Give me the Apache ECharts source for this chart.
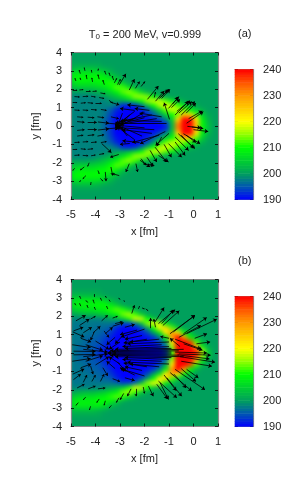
<!DOCTYPE html>
<html><head><meta charset="utf-8">
<style>html,body{margin:0;padding:0;background:#fff}#c{width:289px;height:480px}</style>
<script src="https://cdn.jsdelivr.net/npm/echarts@6/dist/echarts.min.js"></script>
</head><body><div id="c"></div>
<script>
const cellX=[-4.875,-4.625,-4.375,-4.125,-3.875,-3.625,-3.375,-3.125,-2.875,-2.625,-2.375,-2.125,-1.875,-1.625,-1.375,-1.125,-.875,-.625,-.375,-.125,.125,.375,.625,.875];
const cellY=[3.875,3.625,3.375,3.125,2.875,2.625,2.375,2.125,1.875,1.625,1.375,1.125,.875,.625,.375,.125];
const tempA=[
[200,200,200,200,200,200,200,200,200,200,200,200,200,200,200,200,200,200,200,200,200,200,200,200],
[200,200,200,200,200,200,200,200,200,200,200,200,200,200,200,200,200,200,200,200,200,200,200,200],
[201,201,201,201,201,200,200,200,200,200,200,200,200,200,200,200,200,200,200,200,200,200,200,200],
[203,204,204,204,203,202,201,200,200,200,200,200,200,200,200,200,200,200,200,200,200,200,200,200],
[208,208,208,208,208,206,203,201,200,200,200,200,200,200,200,200,200,200,200,200,200,200,200,200],
[209,210,210,210,210,209,207,204,201,200,200,200,200,200,200,200,200,200,200,200,200,200,200,200],
[207,208,208,208,209,210,211,208,204,201,200,200,200,200,200,200,200,200,200,200,200,200,200,200],
[204,205,205,205,206,207,210,213,212,207,202,200,200,200,200,200,200,200,200,200,200,200,200,200],
[200,200,200,201,202,204,206,209,213,215,212,206,202,200,200,200,200,200,200,200,200,200,200,200],
[198,198,198,198,199,200,202,204,207,211,215,216,214,208,203,201,200,200,200,200,200,200,200,200],
[198,198,198,198,198,198,199,200,201,203,206,210,215,218,217,213,208,204,201,200,200,200,200,200],
[198,198,198,198,198,198,198,196,192,191,192,196,203,210,216,219,217,212,207,204,201,200,200,200],
[198,198,198,198,198,197,195,192,190,190,190,191,194,199,206,213,217,217,214,210,205,202,200,200],
[198,198,198,198,198,197,194,191,190,190,190,190,192,195,199,205,210,214,226,224,213,205,201,200],
[198,198,198,198,198,196,193,190,190,190,190,190,190,191,194,198,205,224,245,242,222,208,202,200],
[198,198,198,198,198,196,193,190,190,190,190,190,190,190,190,192,203,232,250,248,226,209,203,200]
];
const tempB=[
[200,200,200,200,200,200,200,200,200,200,200,200,200,200,200,200,200,200,200,200,200,200,200,200],
[200,200,200,200,200,200,200,200,200,200,200,200,200,200,200,200,200,200,200,200,200,200,200,200],
[201,201,201,201,201,200,200,200,200,200,200,200,200,200,200,200,200,200,200,200,200,200,200,200],
[203,203,203,203,202,201,200,200,200,200,200,200,200,200,200,200,200,200,200,200,200,200,200,200],
[207,208,208,208,208,206,203,201,200,200,200,200,200,200,200,200,200,200,200,200,200,200,200,200],
[208,209,209,209,210,210,208,205,201,200,200,200,200,200,200,200,200,200,200,200,200,200,200,200],
[205,206,207,207,208,209,211,213,211,206,202,200,200,200,200,200,200,200,200,200,200,200,200,200],
[201,202,203,203,204,205,207,209,214,216,212,205,201,200,200,200,200,200,200,200,200,200,200,200],
[198,198,198,198,198,199,200,202,205,211,218,218,210,204,201,200,200,200,200,200,200,200,200,200],
[197,197,197,197,197,197,197,196,194,194,197,204,215,220,217,208,203,200,200,200,200,200,200,200],
[197,197,197,197,196,196,195,192,190,190,191,194,200,210,221,224,213,205,201,200,200,200,200,200],
[197,197,197,196,196,195,193,191,190,190,190,191,194,200,208,222,230,222,209,203,200,200,200,200],
[197,197,196,196,195,194,192,190,190,190,190,190,191,193,198,209,230,240,230,210,203,200,200,200],
[197,197,196,195,195,193,191,190,190,190,190,190,190,191,194,201,222,244,246,236,212,203,200,200],
[197,196,196,195,194,192,190,190,190,190,190,190,190,190,192,196,216,244,248,243,228,207,201,200],
[197,196,195,195,193,191,190,190,190,190,190,190,190,190,190,193,212,244,248,248,238,216,204,200]
];
const arrowsA=[
[-4.62,2.85,-4.67,3.05],[-4.43,3,-4.46,3.18],[-4.15,2.9,-4.17,3.05],[-3.9,3,-3.88,3.12],[-3.57,2.8,-3.63,3],[-3.4,2.72,-3.45,2.9],[-3.26,2.5,-3.32,2.72],
[-4.8,2.45,-4.84,2.6],[-4.6,2.5,-4.63,2.62],[-4.35,2.55,-4.38,2.78],[-4.12,2.4,-4.15,2.62],[-3.85,2.55,-3.9,2.8],[-3.64,2.25,-3.7,2.5],
[-3.23,2.35,-3.13,2.6],[-3.1,2.25,-2.98,2.55],[-3.03,2.24,-2.76,2.84],[-2.62,1.96,-2.41,2.55],[-2.37,2.05,-2.2,2.42],[-2.14,2.15,-1.98,2.42],
[-1.88,1.45,-1.43,2.18],[-1.6,1.55,-1.55,1.85],[-1.55,1.35,-1.2,1.9],[-1.4,1.5,-1,2],[-1.3,1.5,-.96,2],[-1.35,1.55,-1.05,1.95],
[-.98,.36,-1.2,1.27],[-1.02,.96,-.62,1.56],[-.9,1,-.55,1.45],[-.75,.6,-.21,1.33],[-.68,.8,-.14,1.38],[-.6,.7,-.07,1.33],[-.5,.6,.06,1.33],[-.85,1.2,-.6,1.6],[-.3,.7,.1,1.25],
[-.28,.15,.4,.78],[-.2,.4,.36,.82],[-.25,-.02,.3,-.1],
[-.07,-.05,.4,-.14],[0,-.2,.6,-.3],[-.41,-.42,.27,-.96],[-.62,-.42,.06,-1.23],[-.75,-.6,-.2,-1.33],[-.75,-.87,-.34,-1.6],[-1.02,-.96,-.48,-1.7],[-.5,-.5,0,-1.2],[-.3,-.5,.1,-.9],
[-1,-.4,-1.55,-1.05],[-1.3,-.6,-1.5,-1.1],[-1.77,-1.33,-1.5,-1.96],[-1.57,-1.15,-1.1,-1.96],[-1.43,-1.6,-1.02,-1.96],[-2.18,-1.87,-1.77,-2.23],[-2.05,-2.05,-1.6,-2.15],[-1.9,-1.7,-1.65,-2.2],[-1.2,-1,-.9,-1.7],
[-2.62,-2.05,-2.76,-2.5],[-2.35,-2.05,-2.28,-2.5],[-2.14,-1.78,-1.94,-2.14],[-3.37,-2.23,-3.3,-2.7],[-3.03,-2.7,-3.3,-2.6],[-3.6,-2.5,-3.57,-3],[-3.9,-2.42,-3.85,-2.6],[-4.26,-2,-4.32,-2.2],[-4.46,-2.23,-4.62,-2.4],[-4.39,-2.7,-4.52,-2.87],[-4.85,-2.3,-4.93,-2.42],[-4.6,-2.95,-4.65,-3.05],[-4.18,-3.05,-4.2,-3.2],[-3.8,-2.85,-3.7,-3],
[-4.93,1.96,-4.75,1.96],[-4.66,1.96,-4.5,1.98],[-4.39,1.9,-4.2,1.9],[-4.12,1.88,-3.95,1.9],[-3.8,1.8,-3.6,1.75],
[-4.86,1.6,-4.65,1.58],[-4.52,1.6,-4.3,1.62],[-4.18,1.62,-4,1.58],[-3.85,1.55,-3.65,1.5],[-3.45,1.4,-3.3,1.25],
[-4.93,1.27,-4.75,1.27],[-4.6,1.24,-4.4,1.27],[-4.32,1.27,-4.1,1.24],[-4,1.24,-3.75,1.24],[-3.4,1.3,-3.03,1.15],
[-4.86,.87,-4.65,.85],[-4.52,.87,-4.3,.85],[-4.18,.9,-3.95,.87],[-3.78,.9,-3.55,.85],
[-4.75,.5,-4.5,.47],[-4.32,.48,-4.05,.45],[-3.92,.5,-3.65,.45],[-3.37,.5,-3.05,.4],
[-4.75,.24,-4.45,.2],[-4.32,.2,-3.95,.2],[-3.9,.22,-3.45,.15],[-3.5,.15,-3.05,.1],
[-4.75,-.24,-4.45,-.2],[-4.32,-.2,-3.95,-.2],[-3.9,-.22,-3.45,-.15],[-3.5,-.15,-3.05,-.1],
[-4.75,-.55,-4.5,-.5],[-4.32,-.52,-4.05,-.48],[-3.92,-.55,-3.65,-.48],
[-4.86,-.9,-4.65,-.88],[-4.52,-.87,-4.3,-.85],[-4.18,-.9,-3.95,-.87],[-3.78,-.9,-3.55,-.85],
[-4.93,-1.27,-4.75,-1.27],[-4.6,-1.24,-4.4,-1.27],[-4.32,-1.27,-4.1,-1.24],[-3.75,-.95,-3.35,-1.45],
[-4.86,-1.6,-4.65,-1.58],[-4.52,-1.6,-4.3,-1.62],[-4.18,-1.62,-4,-1.58],[-3.85,-1.55,-3.65,-1.5],[-3.05,-1.55,-3.4,-1.7],
[-2,1.05,-2.7,1.15],[-2.4,.85,-3,.95],[-1.8,.85,-2.4,.95],[-1.1,.15,-3,.15],[-1.3,.25,-2.9,.3],[-1.5,.4,-3,.1],[-1.7,.6,-3,.25],[-1.3,.5,-2.2,.7],
[-2,.75,-3.1,-.1],[-2.4,.8,-3.1,.1],[-2.6,.6,-3.2,-.1],[-2.7,.4,-3.2,-.2],[-2.9,.7,-3.15,-.2],[-2.4,.4,-3.2,.15],[-2,.45,-3.2,.05],
[-1.15,-.3,-2.18,-.96],[-1.4,-.5,-2.5,-.9],[-1.6,-.2,-3,-.1],[-2,-.1,-3.2,.05],[-1.7,-.4,-2.9,-.2],[-2.1,-.55,-3.1,.05],[-2.4,-.75,-3.1,-.05],[-2.7,-.55,-3.1,.1],[-2.8,-.3,-3.2,.1],[-2.2,-.9,-2.9,-.8],[-2.6,-.95,-3,-1]
];
const arrowsB=[
[-4.6,2.95,-4.65,3.1],[-4.3,2.75,-4.4,2.85],[-4.05,3.05,-4.05,3.2],[-4.05,2.7,-4.1,2.9],[-3.75,2.85,-3.8,3],[-3.55,3,-3.6,3.1],[-3.4,2.8,-3.45,2.9],[-3,2.9,-3.05,3],[-2.8,2.8,-2.85,2.85],[-2.52,2.15,-2.41,2.6],[-2.25,2.4,-2.2,2.55],[-2.1,2.45,-2,2.4],[-1.95,2.4,-1.85,2.3],[-4.8,2.6,-4.85,2.7],[-4.6,2.55,-4.65,2.7],[-4.3,2.45,-4.35,2.6],[-4,2.35,-4.05,2.5],[-3.5,2.4,-3.55,2.55],
[-4.8,1.75,-4.4,2.05],[-4.65,1.5,-4.25,1.85],[-4.2,1.85,-4,2],[-3.75,1.75,-3.5,2.05],[-3.3,1.9,-3.1,2],[-3.2,1.6,-2.9,1.7],
[-4.9,1.2,-4.5,1.4],[-4.5,1.1,-4.15,1.4],[-4.1,1.1,-3.8,1.45],[-3.6,1.05,-3.3,1.4],[-3.3,1.45,-2.85,1.65],[-2.8,1.4,-2.4,1.55],
[-4.93,1.15,-4.46,.87],[-4.6,.8,-4.18,.6],[-4.05,1.15,-4.2,.7],[-3.65,1.2,-3.45,.85],[-3.2,.85,-3.55,.45],[-3,.6,-3.45,.2],[-2.85,1,-3.2,.5],
[-4.95,.45,-4.2,.3],[-4.9,.1,-4,.08],[-4.4,.45,-3.7,.15],[-4,.65,-3.45,.2],[-4.5,.2,-3.5,.05],
[-.9,.05,-3.5,.03],[-.6,.12,-3.3,.08],[-.4,.2,-3.4,.12],[-.9,.25,-3.2,.2],[-1,.35,-2.8,.25],[-1.3,.45,-2.9,.35],[-1,.6,-2.7,.5],[-1.4,.75,-2.6,.6],
[-2,1.3,-2.95,.87],[-2.1,.95,-2.8,.75],[-2.3,1.25,-3,1],[-1.9,.75,-2.85,.55],
[-.9,-.05,-3.5,-.03],[-.6,-.12,-3.3,-.08],[-.4,-.2,-3.4,-.12],[-.9,-.25,-3.2,-.2],[-1,-.35,-2.8,-.25],[-1.3,-.45,-2.9,-.35],[-1,-.6,-2.7,-.5],[-1.4,-.75,-2.6,-.6],
[-2,-1.25,-2.95,-.87],[-2.1,-.95,-2.8,-.75],[-2.4,-1.2,-3,-.8],[-1.9,-.75,-2.85,-.55],
[-4.95,-.45,-4.2,-.3],[-4.9,-.1,-4,-.08],[-4.4,-.45,-3.7,-.15],[-4,-.65,-3.45,-.2],[-4.5,-.2,-3.5,-.05],
[-4.93,-1.15,-4.46,-.87],[-4.6,-.8,-4.18,-.6],[-4.2,-.7,-4.1,-1.15],[-3.7,-.8,-3.5,-1.25],[-3.2,-.85,-3.55,-.45],[-3,-.6,-3.45,-.2],[-3.1,-.5,-2.75,-1],
[-4.9,-1.45,-4.6,-1.15],[-4.5,-1.6,-4.35,-1.2],[-4.15,-1.55,-4,-1.2],[-3.8,-1.55,-3.65,-1.15],[-3.3,-1.4,-3,-1.55],[-2.8,-1.35,-2.4,-1.5],
[-4.75,-1.9,-4.45,-1.7],[-4.3,-1.95,-4,-1.8],[-3.9,-1.95,-3.6,-1.9],
[-4.7,-2.7,-4.8,-2.85],[-4.4,-2.4,-4.5,-2.55],[-4.2,-2.9,-4.25,-3.1],[-3.85,-2.5,-3.95,-2.7],[-3.6,-2.6,-3.65,-2.85],[-3.35,-2.85,-3.45,-3],[-3.05,-2.45,-3.15,-2.7],[-2.85,-2.2,-3,-2.55],[-2.55,-1.95,-2.7,-2.35],[-2.35,-1.95,-2.35,-2.35],[-2.05,-1.85,-2,-2.2],
[-1.57,1.69,-1.2,2.47],[-1.75,1.35,-1.75,1.9],[-1.55,1.4,-1.62,1.85],[-1.43,1.6,-.75,2.36],[-1.3,1.6,-.82,2.33],[-1.25,1.5,-.58,2.3],
[-.96,1.05,.06,2.05],[-.82,1.15,.06,2.05],[-.41,1.05,.54,1.93],[-.28,1.05,.95,1.84],[-.6,.85,.3,1.5],[.05,.8,.55,1.05],[.12,.5,.68,.6],[-.55,.35,-.96,.8],[-1,.8,-1.35,.9],
[-.4,.5,.37,.15],[-.75,.75,.3,.22],[-.75,.05,.55,0],[-.65,-.1,.65,-.32],[-.5,-.45,.75,-.72],[-.55,-.2,.88,-.5],[-.6,-.05,.7,-.12],
[-.75,-.89,.47,-2],[-.28,-.89,.2,-1.35],[-.95,-1.07,-.07,-2.07],[-1.09,-1.35,-.48,-2.35],[-1.43,-1.53,-.68,-2.44],[-1.36,-1.62,-1.02,-2.53],[-1.5,-1.7,-1.06,-2.5],[-1.84,-1.8,-1.64,-2.35],[-.5,-.85,.1,-1.55],[-.8,-1.15,-.3,-1.9],[-1.2,-1.2,-.7,-2.05]
];
const stops=['#0000ff','#0058b0','#00a05c','#00cf30','#00ff00','#90ff00','#ffff00','#ffcc00','#ff9900','#ff5500','#ff0000'];
const colorLevels=[];for(let v=190.5;v<240;v+=1)colorLevels.push(v);

const label={color:'#222',fontSize:11,fontFamily:'Liberation Sans'};
const grids=[],xAxes=[],yAxes=[],series=[];
function tick(){return{show:true,inside:true,length:3,lineStyle:{color:'#000',width:.8}};}
const line={show:true,onZero:false,lineStyle:{color:'#888',width:1.2}};
function panel(top,rows,arrows){
  const g=grids.length;grids.push({left:71,top:top,width:147,height:147});
  const xi=xAxes.length,yi=yAxes.length;
  xAxes.push({gridIndex:g,type:'value',position:'bottom',min:-5,max:1,interval:1,axisLine:line,axisTick:tick(),splitLine:{show:false},zlevel:2,
    axisLabel:Object.assign({margin:10,showMaxLabel:true,showMinLabel:true},label),name:'x [fm]',nameLocation:'middle',nameGap:27,nameTextStyle:label});
  xAxes.push({gridIndex:g,type:'value',position:'top',min:-5,max:1,interval:1,axisLine:line,axisTick:tick(),axisLabel:{show:false},splitLine:{show:false},zlevel:2});
  xAxes.push({gridIndex:g,type:'category',show:false,data:cellX});
  yAxes.push({gridIndex:g,type:'value',position:'left',min:-4,max:4,interval:1,axisLine:line,axisTick:tick(),splitLine:{show:false},zlevel:2,
    axisLabel:Object.assign({margin:9},label),name:'y [fm]',nameLocation:'middle',nameGap:9,nameTextStyle:label});
  yAxes.push({gridIndex:g,type:'value',position:'right',min:-4,max:4,interval:1,axisLine:line,axisTick:tick(),axisLabel:{show:false},splitLine:{show:false},zlevel:2});
  const cy=cellY.map(v=>-v).concat(cellY.slice().reverse());
  yAxes.push({gridIndex:g,type:'category',show:false,data:cy});
  const heat=[];
  const full=rows.concat(rows.slice().reverse());
  full.forEach((r,i)=>r.forEach((v,j)=>heat.push([j,i,v])));
  series.push({type:'heatmap',xAxisIndex:xi+2,yAxisIndex:yi+2,data:heat,zlevel:0,itemStyle:{borderWidth:0},emphasis:{disabled:true}});
  series.push({type:'lines',coordinateSystem:'cartesian2d',xAxisIndex:xi,yAxisIndex:yi,zlevel:2,polyline:false,
    symbol:['none','arrow'],lineStyle:{color:'#000',width:.8,opacity:1},
    data:arrows.map(a=>{const len=Math.hypot((a[2]-a[0])*24.5,(a[3]-a[1])*18.4);
      return {coords:[[a[0],a[1]],[a[2],a[3]]],symbolSize:Math.max(1,Math.min(3.6,len*.32))};})});
}
function bar(top,height){
  const g=grids.length;grids.push({left:235,top:top,width:18,height:height});
  const xi=xAxes.length,yi=yAxes.length;
  xAxes.push({gridIndex:g,type:'category',data:['c'],axisLine:line,axisTick:{show:false},axisLabel:{show:false},zlevel:2,position:'bottom'});
  xAxes.push({gridIndex:g,type:'category',data:['c'],axisLine:line,axisTick:{show:false},axisLabel:{show:false},zlevel:2,position:'top'});
  yAxes.push({gridIndex:g,type:'category',show:false,data:colorLevels});
  yAxes.push({gridIndex:g,type:'value',position:'right',min:190,max:240,interval:10,axisLine:line,axisTick:tick(),splitLine:{show:false},zlevel:2,axisLabel:Object.assign({margin:10},label)});
  yAxes.push({gridIndex:g,type:'value',position:'left',min:190,max:240,interval:10,axisLine:line,axisTick:tick(),splitLine:{show:false},zlevel:2,axisLabel:{show:false}});
  series.push({type:'heatmap',xAxisIndex:xi,yAxisIndex:yi,zlevel:2,itemStyle:{borderWidth:0},emphasis:{disabled:true},
    data:colorLevels.map((v,i)=>[0,i,v])});
}
panel(52.5,tempA,arrowsA);
panel(279.5,tempB,arrowsB);
bar(69.5,130);
bar(296.5,130);
const heatIdx=series.map((s,i)=>s.type==='heatmap'?i:-1).filter(i=>i>=0);
const t={fontSize:11,fontFamily:'Liberation Sans',color:'#222',fontWeight:'normal'};
const option={
  animation:false,backgroundColor:'transparent',
  grid:grids,xAxis:xAxes,yAxis:yAxes,series:series,
  visualMap:{show:false,type:'continuous',min:190,max:240,dimension:2,seriesIndex:heatIdx,inRange:{color:stops}},
  title:[
    {text:'{a|T}{s|0}{a| = 200 MeV, v=0.999}',left:145,top:28,padding:0,textAlign:'center',textStyle:{fontWeight:'normal',rich:{a:Object.assign({},t),s:Object.assign({},t,{fontSize:8,padding:[5,0,0,0]})}},zlevel:2},
    {text:'(a)',left:238,top:28,padding:0,textStyle:t,zlevel:2},
    {text:'(b)',left:238,top:255,padding:0,textStyle:t,zlevel:2}
  ]
};
const chart=echarts.init(document.getElementById('c'),null,{renderer:'canvas'});
chart.setOption(option);
const heatLayer=document.querySelector('#c canvas');
heatLayer.style.background=stops[2];
heatLayer.style.filter='blur(2px)';
heatLayer.style.clipPath="path('M71 52.5H218V199.5H71Z M71 279.5H218V426.5H71Z')";
</script></body></html>
